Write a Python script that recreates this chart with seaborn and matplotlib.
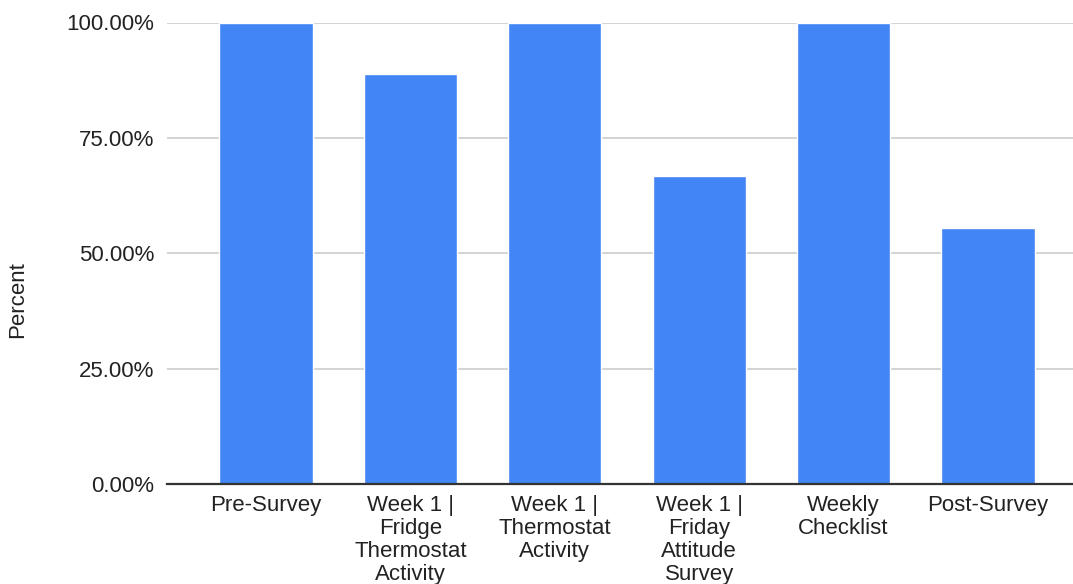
import matplotlib
matplotlib.use("Agg")
import matplotlib.pyplot as plt
import seaborn as sns
import pandas as pd
from matplotlib.ticker import FuncFormatter

categories = ["Pre-Survey", "Week 1 |\nFridge\nThermostat\nActivity", "Week 1 |\nThermostat\nActivity",
              "Week 1 |\nFriday\nAttitude\nSurvey", "Weekly\nChecklist", "Post-Survey"]
percents = [100.0, 88.89, 100.0, 66.67, 100.0, 55.56]
yticks = [0, 25, 50, 75, 100]

sns.set_theme(style="white")
plt.rcParams['font.family'] = ['Liberation Sans', 'DejaVu Sans']

df = pd.DataFrame({"cat": categories, "pct": percents})

fig = plt.figure(figsize=(10.73, 5.84), dpi=100)
ax = fig.add_axes([167/1073, 1-484/584, 1-167/1073, (484-22.5)/584])
sns.barplot(data=df, x="cat", y="pct", order=categories, color="#4285F4",
            saturation=1, width=0.645, ax=ax, zorder=3)

ax.set_xlim(-0.686, 5.589)
ax.set_ylim(0, 100)
ax.set_yticks(yticks)
ax.yaxis.set_major_formatter(FuncFormatter(lambda v, p: f"{v:.2f}%"))
ax.grid(axis="y", color="#cccccc", linewidth=1.2, zorder=0)
ax.set_axisbelow(True)
for s in ["top", "right", "left"]:
    ax.spines[s].set_visible(False)
ax.spines["bottom"].set_color("#333333")
ax.spines["bottom"].set_linewidth(1.6)
ax.spines["bottom"].set_zorder(4)
ax.tick_params(axis="both", length=0, labelsize=16, labelcolor="#222222")
ax.tick_params(axis="y", pad=9)
ax.tick_params(axis="x", pad=8)
for t in ax.get_xticklabels():
    t.set_linespacing(1.12)
ax.set_xlabel("")
ax.set_ylabel("")
fig.text(18/1073, 1-300/584, "Percent", rotation=90, ha="center", va="center",
         fontsize=16, color="#222222")

fig.savefig("out.png", dpi=100)
